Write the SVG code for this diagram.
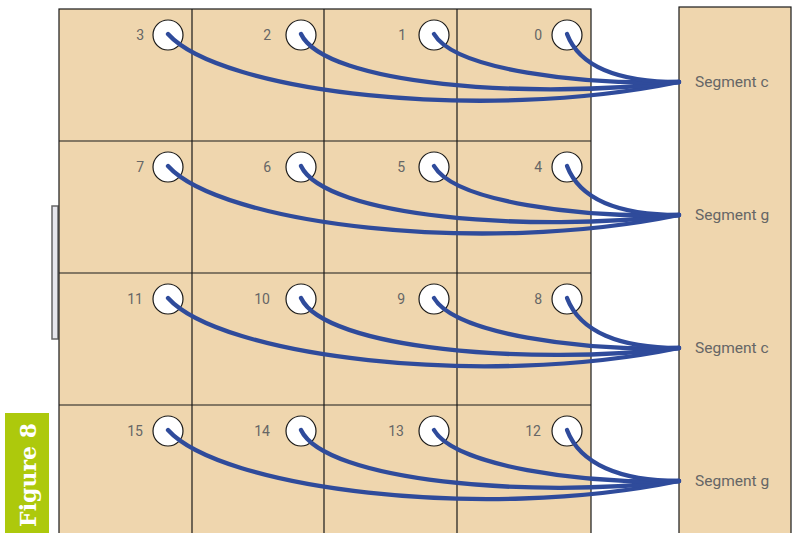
<svg xmlns="http://www.w3.org/2000/svg" width="795" height="533" viewBox="0 0 795 533">
<style>
.cell{fill:#efd6ae;stroke:#1a1a1a;stroke-width:1.2}
.grid{stroke:#1a1a1a;stroke-width:1.2;fill:none}
.pin{fill:#fff;stroke:#1a1a1a;stroke-width:1.2}
.num{font-family:"Roboto","Liberation Sans",sans-serif;font-size:14px;fill:#666;text-anchor:end}
.seg{font-family:"Roboto","Liberation Sans",sans-serif;font-size:15.5px;fill:#666}
.wire{fill:none;stroke:#2f4b9b;stroke-width:4.3;stroke-linecap:round}
</style>
<rect x="0" y="0" width="795" height="533" fill="#fff"/>
<g id="figure-label">
<rect x="5" y="413" width="44" height="125" fill="#adc90c"/>
<text transform="translate(36,475) rotate(-90)" text-anchor="middle" font-family="'DejaVu Serif',serif" font-weight="bold" font-size="22" fill="#fff">Figure 8</text>
</g>
<g id="bracket">
<rect x="52" y="206" width="6" height="133" fill="#e6e6ec" stroke="#666" stroke-width="1.5"/>
</g>
<g id="board">
<rect class="cell" x="59" y="9" width="532" height="530"/>
<path class="grid" d="M192,9V533M324,9V533M457,9V533M59,141H591M59,273H591M59,405H591"/>
</g>
<g id="segment-panel">
<rect class="cell" x="679" y="7" width="112" height="532" stroke="#555"/>
</g>
<g id="seg-c1"><text class="seg" x="695" y="87">Segment c</text></g>
<g id="seg-g1"><text class="seg" x="695" y="220">Segment g</text></g>
<g id="seg-c2"><text class="seg" x="695" y="353">Segment c</text></g>
<g id="seg-g2"><text class="seg" x="695" y="486">Segment g</text></g>
<g id="pin-3"><circle class="pin" cx="168" cy="35" r="15"/><text class="num" x="144" y="40">3</text></g>
<g id="pin-2"><circle class="pin" cx="301" cy="35" r="15"/><text class="num" x="271" y="40">2</text></g>
<g id="pin-1"><circle class="pin" cx="434" cy="35" r="15"/><text class="num" x="406" y="40">1</text></g>
<g id="pin-0"><circle class="pin" cx="567" cy="35" r="15"/><text class="num" x="542" y="40">0</text></g>
<g id="pin-7"><circle class="pin" cx="168" cy="167" r="15"/><text class="num" x="144" y="172">7</text></g>
<g id="pin-6"><circle class="pin" cx="301" cy="167" r="15"/><text class="num" x="271" y="172">6</text></g>
<g id="pin-5"><circle class="pin" cx="434" cy="167" r="15"/><text class="num" x="405" y="172">5</text></g>
<g id="pin-4"><circle class="pin" cx="567" cy="167" r="15"/><text class="num" x="542" y="172">4</text></g>
<g id="pin-11"><circle class="pin" cx="168" cy="299" r="15"/><text class="num" x="143" y="304">11</text></g>
<g id="pin-10"><circle class="pin" cx="301" cy="299" r="15"/><text class="num" x="270" y="304">10</text></g>
<g id="pin-9"><circle class="pin" cx="434" cy="299" r="15"/><text class="num" x="405" y="304">9</text></g>
<g id="pin-8"><circle class="pin" cx="567" cy="299" r="15"/><text class="num" x="542" y="304">8</text></g>
<g id="pin-15"><circle class="pin" cx="168" cy="431" r="15"/><text class="num" x="143" y="436">15</text></g>
<g id="pin-14"><circle class="pin" cx="301" cy="431" r="15"/><text class="num" x="270" y="436">14</text></g>
<g id="pin-13"><circle class="pin" cx="434" cy="431" r="15"/><text class="num" x="404" y="436">13</text></g>
<g id="pin-12"><circle class="pin" cx="567" cy="431" r="15"/><text class="num" x="541" y="436">12</text></g>
<g id="connectors">
<path class="wire" d="M168,34 C220,92 480,123 679,82"/>
<path class="wire" d="M301,34 C325,85 530,100 679,82"/>
<path class="wire" d="M434,34 C455,70 580,85 679,82"/>
<path class="wire" d="M567,34 C580,68 620,82 679,82"/>
<path class="wire" d="M168,166 C220,224 480,256 679,215"/>
<path class="wire" d="M301,166 C325,217 530,233 679,215"/>
<path class="wire" d="M434,166 C455,202 580,218 679,215"/>
<path class="wire" d="M567,166 C580,200 620,215 679,215"/>
<path class="wire" d="M168,298 C220,356 480,389 679,348"/>
<path class="wire" d="M301,298 C325,349 530,366 679,348"/>
<path class="wire" d="M434,298 C455,334 580,351 679,348"/>
<path class="wire" d="M567,298 C580,332 620,348 679,348"/>
<path class="wire" d="M168,430 C220,488 480,522 679,481"/>
<path class="wire" d="M301,430 C325,481 530,499 679,481"/>
<path class="wire" d="M434,430 C455,466 580,484 679,481"/>
<path class="wire" d="M567,430 C580,464 620,481 679,481"/>
</g>
</svg>
